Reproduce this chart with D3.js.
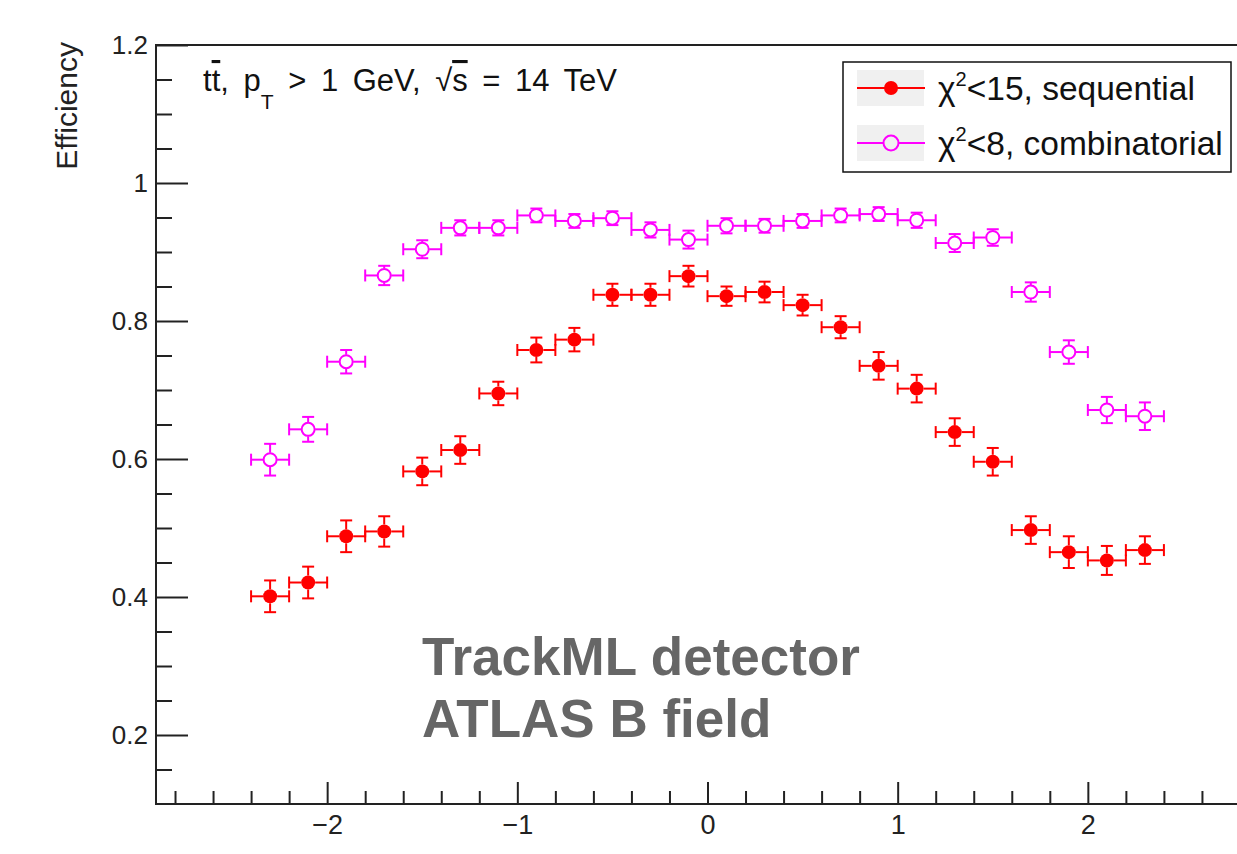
<!DOCTYPE html>
<html>
<head>
<meta charset="utf-8">
<script src="https://cdn.jsdelivr.net/npm/d3@7"></script>
<style>
  body { margin: 0; background: #fff; }
  text { font-family: "Liberation Sans", Arial, Helvetica, sans-serif; }
</style>
</head>
<body>
<div id="chart"></div>
<script>
// eta bin centres (bin width 0.2)
var etaBins = [-2.3, -2.1, -1.9, -1.7, -1.5, -1.3, -1.1, -0.9, -0.7, -0.5, -0.3, -0.1,
               0.1, 0.3, 0.5, 0.7, 0.9, 1.1, 1.3, 1.5, 1.7, 1.9, 2.1, 2.3];
var etaHalfWidth = 0.1;

// chi2<15, sequential
var seqEff = [0.401, 0.421, 0.488, 0.495, 0.582, 0.613, 0.695, 0.758, 0.773, 0.838, 0.838, 0.865,
              0.836, 0.842, 0.823, 0.791, 0.735, 0.702, 0.639, 0.596, 0.497, 0.465, 0.453, 0.468];
var seqErr = [0.023, 0.023, 0.023, 0.022, 0.020, 0.020, 0.017, 0.018, 0.017, 0.016, 0.016, 0.015,
              0.014, 0.015, 0.015, 0.016, 0.020, 0.020, 0.020, 0.020, 0.020, 0.023, 0.021, 0.020];

// chi2<8, combinatorial
var combEff = [0.599, 0.643, 0.741, 0.866, 0.904, 0.935, 0.935, 0.953, 0.945, 0.949, 0.932, 0.918,
               0.938, 0.938, 0.945, 0.953, 0.955, 0.946, 0.913, 0.921, 0.842, 0.755, 0.671, 0.662];
var combErr = [0.023, 0.018, 0.017, 0.014, 0.013, 0.011, 0.011, 0.010, 0.010, 0.010, 0.011, 0.013,
               0.011, 0.010, 0.010, 0.010, 0.010, 0.011, 0.013, 0.012, 0.014, 0.017, 0.019, 0.020];

var xTicks = [-2, -1, 0, 1, 2];
var yTicks = [0.2, 0.4, 0.6, 0.8, 1, 1.2];
var legendLabels = ["<15, sequential", "<8, combinatorial"];

var width = 1237,
    height = 854;

var svg = d3.select("#chart")
  .append("svg")
  .attr("width", width)
  .attr("height", height);

// scales - the right part of the frame runs off the picture
var x = d3.scaleLinear().domain([-2.9, 2.9]).range([156, 1259]);
var y = d3.scaleLinear().domain([0.1, 1.2]).range([804, 45]);

// minor ticks
var xMinor = d3.range(-28, 29, 2).map(function(d) { return d / 10; })
  .filter(function(d) { return xTicks.indexOf(d) < 0; });
var yMinor = d3.range(3, 24).map(function(d) { return d * 0.05; })
  .filter(function(d) { return yTicks.every(function(t) { return Math.abs(t - d) > 1e-6; }); });

var fmt = d3.format("~g");

// y axis
var yAxis = svg.append("g")
  .attr("transform", "translate(" + x.range()[0] + ",0)")
  .call(d3.axisLeft(y).tickValues(yTicks).tickFormat(fmt)
    .tickSizeInner(-32).tickSizeOuter(0).tickPadding(8));
svg.append("g")
  .attr("transform", "translate(" + x.range()[0] + ",0)")
  .call(d3.axisLeft(y).tickValues(yMinor).tickFormat("")
    .tickSizeInner(-16).tickSizeOuter(0));

// x axis
var xAxis = svg.append("g")
  .attr("transform", "translate(0," + y.range()[0] + ")")
  .call(d3.axisBottom(x).tickValues(xTicks).tickFormat(fmt)
    .tickSizeInner(-22).tickSizeOuter(0).tickPadding(11));
svg.append("g")
  .attr("transform", "translate(0," + y.range()[0] + ")")
  .call(d3.axisBottom(x).tickValues(xMinor).tickFormat("")
    .tickSizeInner(-13).tickSizeOuter(0));

svg.selectAll(".domain").remove();
svg.selectAll(".tick line").attr("stroke", "#222").attr("stroke-width", 2);
yAxis.selectAll("text").attr("font-size", 26).attr("fill", "#222");
xAxis.selectAll("text").attr("font-size", 27).attr("fill", "#222");

// frame
svg.append("rect")
  .attr("x", x.range()[0])
  .attr("y", y.range()[1])
  .attr("width", x.range()[1] - x.range()[0])
  .attr("height", y.range()[0] - y.range()[1])
  .attr("fill", "none")
  .attr("stroke", "#222")
  .attr("stroke-width", 2);

// axis title
svg.append("text")
  .attr("transform", "translate(77,42) rotate(-90)")
  .attr("text-anchor", "end")
  .attr("font-size", 30)
  .attr("fill", "#222")
  .text("Efficiency");

// draw one series with error bars
function drawSeries(vals, errs, color, filled) {
  var r = 7, cap = 6;
  var pts = etaBins.map(function(e, i) {
    return { eta: e, v: vals[i], err: errs[i] };
  });
  var g = svg.append("g")
    .attr("stroke", color)
    .attr("stroke-width", 2)
    .attr("fill", "none");

  var pt = g.selectAll("g.pt")
    .data(pts)
    .enter().append("g")
    .attr("class", "pt");

  pt.each(function(d) {
    var s = d3.select(this);
    var cx = x(d.eta), cy = y(d.v);
    var x0 = x(d.eta - etaHalfWidth), x1 = x(d.eta + etaHalfWidth);
    var y0 = y(d.v + d.err), y1 = y(d.v - d.err);
    s.append("line").attr("x1", x0).attr("x2", cx - r).attr("y1", cy).attr("y2", cy);
    s.append("line").attr("x1", cx + r).attr("x2", x1).attr("y1", cy).attr("y2", cy);
    s.append("line").attr("x1", x0).attr("x2", x0).attr("y1", cy - cap).attr("y2", cy + cap);
    s.append("line").attr("x1", x1).attr("x2", x1).attr("y1", cy - cap).attr("y2", cy + cap);
    if (cy - y0 > r) {
      s.append("line").attr("x1", cx).attr("x2", cx).attr("y1", y0).attr("y2", cy - r);
      s.append("line").attr("x1", cx).attr("x2", cx).attr("y1", cy + r).attr("y2", y1);
    }
    s.append("line").attr("x1", cx - cap).attr("x2", cx + cap).attr("y1", y0).attr("y2", y0);
    s.append("line").attr("x1", cx - cap).attr("x2", cx + cap).attr("y1", y1).attr("y2", y1);
    s.append("circle")
      .attr("cx", cx).attr("cy", cy)
      .attr("r", filled ? r : r - 0.5)
      .attr("fill", filled ? color : "none")
      .attr("stroke-width", filled ? 0 : 2);
  });
}

drawSeries(combEff, combErr, "#ff00ff", false);
drawSeries(seqEff, seqErr, "#ff0000", true);

// header text
var head = svg.append("text")
  .attr("x", 203)
  .attr("y", 91)
  .attr("font-size", 31)
  .attr("word-spacing", 6)
  .attr("fill", "#111");
head.append("tspan").text("t");
head.append("tspan").attr("text-decoration", "overline").text("t");
head.append("tspan").text(", p");
head.append("tspan").attr("font-size", 21).attr("dy", 18).text("T");
head.append("tspan").attr("dy", -18).text(" > 1 GeV, \u221A");
head.append("tspan").attr("text-decoration", "overline").text("s");
head.append("tspan").text(" = 14 TeV");

// legend
var legend = svg.append("g");
legend.append("rect")
  .attr("x", 843).attr("y", 62)
  .attr("width", 388).attr("height", 110)
  .attr("fill", "#fff")
  .attr("stroke", "#111")
  .attr("stroke-width", 1.5);

var legendItems = [
  { label: legendLabels[0], color: "#ff0000", filled: true },
  { label: legendLabels[1], color: "#ff00ff", filled: false }
];

legendItems.forEach(function(d, i) {
  var cy = 88 + i * 55;
  legend.append("rect")
    .attr("x", 857).attr("y", cy - 18)
    .attr("width", 67).attr("height", 36)
    .attr("fill", "#f0f0f0");
  legend.append("line")
    .attr("x1", 857).attr("x2", 925)
    .attr("y1", cy).attr("y2", cy)
    .attr("stroke", d.color).attr("stroke-width", 2);
  if (d.filled) {
    legend.append("circle").attr("cx", 891).attr("cy", cy).attr("r", 7).attr("fill", d.color);
  } else {
    legend.append("circle").attr("cx", 891).attr("cy", cy).attr("r", 7.5)
      .attr("fill", "#f0f0f0").attr("stroke", d.color).attr("stroke-width", 2);
  }
  var t = legend.append("text")
    .attr("x", 938).attr("y", cy + 12)
    .attr("font-size", 33.5)
    .attr("fill", "#111");
  t.append("tspan").text("\u03C7");
  t.append("tspan").attr("font-size", 20).attr("dy", -14).text("2");
  t.append("tspan").attr("dy", 14).text(d.label);
});

// overlay note
var note = svg.append("text")
  .attr("font-size", 53)
  .attr("font-weight", "bold")
  .attr("fill", "#666");
note.append("tspan").attr("x", 422).attr("y", 675).text("TrackML detector");
note.append("tspan").attr("x", 422).attr("y", 737).text("ATLAS B field");
</script>
</body>
</html>
